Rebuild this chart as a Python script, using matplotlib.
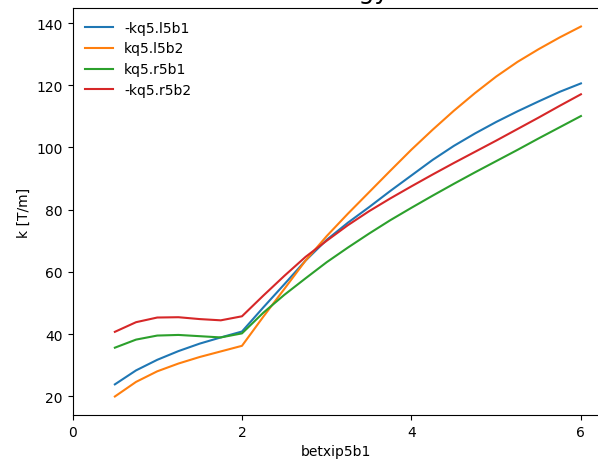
import matplotlib
matplotlib.use("Agg")
import matplotlib.pyplot as plt

# scan of betxip5b1
betx = [0.5, 0.75, 1.0, 1.25, 1.5, 1.75, 2.0, 2.25, 2.5, 2.75, 3.0, 3.25,
        3.5, 3.75, 4.0, 4.25, 4.5, 4.75, 5.0, 5.25, 5.5, 5.75, 6.0]

k_l5b1 = [23.8, 28.3, 31.7, 34.5, 36.9, 38.9, 40.8, 48.5, 56.0, 63.6, 70.3, 75.8,
          80.8, 86.0, 91.0, 96.0, 100.5, 104.5, 108.2, 111.6, 114.8, 117.9, 120.6]
k_l5b2 = [19.9, 24.6, 28.0, 30.5, 32.6, 34.4, 36.2, 45.5, 54.5, 63.6, 71.5, 78.7,
          85.6, 92.5, 99.3, 105.7, 111.8, 117.5, 122.8, 127.5, 131.6, 135.4, 138.9]
k_r5b1 = [35.6, 38.2, 39.5, 39.7, 39.3, 38.9, 40.2, 46.8, 52.6, 57.9, 63.1, 67.8,
          72.3, 76.6, 80.6, 84.5, 88.3, 92.0, 95.6, 99.2, 102.9, 106.5, 110.1]
k_r5b2 = [40.7, 43.8, 45.3, 45.4, 44.8, 44.4, 45.7, 52.3, 58.7, 64.8, 70.0, 75.0,
          79.5, 83.6, 87.5, 91.3, 95.0, 98.6, 102.2, 105.9, 109.6, 113.4, 117.1]

series = [("-kq5.l5b1", k_l5b1), ("kq5.l5b2", k_l5b2),
          ("kq5.r5b1", k_r5b1), ("-kq5.r5b2", k_r5b2)]

fig = plt.figure(figsize=(5.98, 4.64), dpi=100)
ax = fig.add_axes([72.5 / 598, 48 / 464, (600 - 72.5) / 598, (416 - 9) / 464])
for name, k in series:
    ax.plot(betx, k, label=name)
ax.set_xlim(0, 6.225)
ax.set_xticks([0, 2, 4, 6])
ax.set_xlabel("betxip5b1")
ax.set_ylabel("k [T/m]")
# only the bottom of the title survives the crop in the reference
ax.set_title("Strategy", fontsize=18, pad=7)
ax.legend(loc="upper left", frameon=False)
fig.savefig("out.png", dpi=100)
